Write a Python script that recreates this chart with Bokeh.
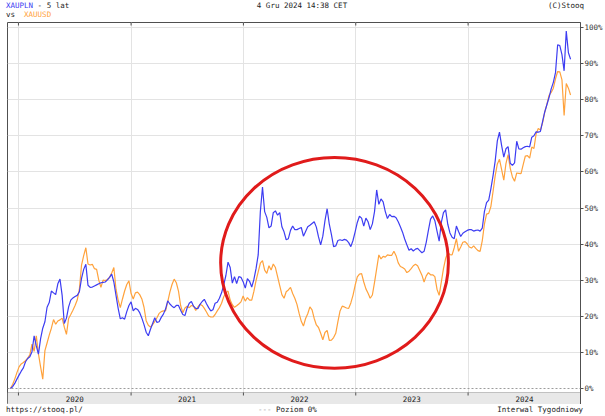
import pandas as pd
from bokeh.plotting import figure
from bokeh.layouts import column
from bokeh.models import (Range1d, FixedTicker, PrintfTickFormatter,
                          DatetimeTickFormatter, BoxAnnotation, Span, Div)
from bokeh.embed import file_html
from bokeh.resources import INLINE

# ---------------- data (weekly, % change since start) ----------------
START_DATE = "2019-12-06"

xaupln = [
    0.0, 0.5, 1.4, 2.6, 3.7, 4.8, 5.7, 7.4, 8.3, 8.8,
    10.2, 14.6, 11.8, 9.5, 13.8, 16.7, 18.5, 22.5, 23.8, 27,
    26.5, 26, 29, 30.3, 25.8, 18, 19.5, 22.6, 24.5, 25.1,
    25.5, 25.8, 26.8, 30.5, 33, 34.4, 28.6, 28, 28.1, 28.4,
    28.7, 29, 29.3, 29.4, 29.5, 30.1, 30.8, 31.7, 29.5, 25.8,
    22.2, 19.3, 19.6, 19.2,
    21.3, 23, 24, 21.5, 22.2, 21.9, 21, 19.5, 17.7, 15.6,
    14.6, 16.4, 18, 19.6, 18.3, 18.5, 19.7, 20.6, 22, 24.3,
    23.4, 22.8, 22.4, 23, 23, 21.7, 20.5, 20.2, 22.3, 23.6,
    24.1, 22.8, 22.2, 22.1, 23.3, 24.1, 24.7, 23.5, 22.4, 21.5,
    21.8,
    23.6, 23.9, 25, 26.5, 28.7, 31.3, 35, 33.5, 29.2, 31,
    29.1, 31, 30.8, 29.6, 27.8, 30.4, 29.7, 28.1, 30.2, 33.2,
    37, 49, 55.8, 49, 47.4, 44.5, 45, 48.7, 49.2, 48,
    48.7, 44.8, 43.4, 41.2, 41.5, 43.8, 45, 44, 44, 44.3,
    44.6, 42.2, 43.5, 44.8, 45.2, 45.7, 46.2, 44.7, 42, 39.8,
    42.2, 46.5, 49.8, 45.5, 42.6, 39.3, 39.5, 41,
    41.2, 41, 41.3, 41.1, 40.4, 39.3, 41, 43.4, 46, 47.7,
    47.2, 45, 47.2, 46.2, 44, 45.6, 49, 55, 51, 52.5,
    51.7, 49, 47.1, 48.2, 47.6, 47.7, 47.3, 46.2, 44.8, 43.3,
    41.4, 39.8, 38.3, 38.7, 38.1, 38.6, 38.8, 38.2, 37.6, 38,
    40.5, 43.8, 46.9, 47.8, 46.5, 43.6, 40.8, 46, 48.7, 49.5,
    45.5, 43.1, 41.9, 41.5, 45,
    43.5, 42.1, 43, 43.4, 43.8, 44, 44, 43.6, 43.8, 43.9,
    43.6, 44.4, 49, 51.5, 52.2, 55.3, 58.9, 63, 68.6, 71,
    67.3, 64.1, 66.4, 67, 62.4, 61.8, 62.5, 68.5, 66.4, 66.3,
    66.7, 67, 67.1, 66.9, 69.6, 70, 71.1, 71, 71.2, 73.9,
    76.6, 78.6, 80.6, 83, 84.8, 87.5, 95.2, 95, 92.5, 88,
    99, 93, 91.2,
]

xauusd = [
    0.0, 1.1, 2.6, 4.4, 6, 6.8, 7.2, 7.7, 8.4, 9.3,
    12.3, 10.3, 14.6, 9.6, 6, 2.6, 10.5, 12.6, 14.8, 16.7,
    19.1, 17.8, 18.7, 19, 19.5, 17, 15, 19.4, 20.5, 21.7,
    23, 24.5, 27.5, 34.2, 36.8, 39, 34.5, 34.2, 34.4, 33.2,
    33, 30, 28, 30, 29.9, 30.2, 30.8, 32, 33.5, 27.5,
    24.5, 22.4, 24.8, 27,
    28.8, 29.8, 26.3, 24.8, 26.5, 26.7, 26, 24.8, 22.5, 18.8,
    17.5, 17, 17.7, 18.6, 19.6, 20.8, 21.3, 21.5, 21.5, 24,
    26.7, 28.8, 30.3, 29.3, 27, 23, 21, 22.3, 22.8, 22.4,
    23, 22.8, 21.6, 22.6, 23.3, 23, 22.2, 21.2, 20.1, 19.8,
    19.8,
    20.5, 21.5, 22.4, 23.6, 25.4, 26.5, 27, 24.5, 23.2, 22.5,
    22.9, 23.4, 24, 25.6, 24.2, 25.2, 24.5, 24.5, 26.9, 29.9,
    32.3, 34.7, 35.4, 32.8, 31.9, 34, 32.8, 34.5, 33.5, 31,
    28.5, 26, 25, 26.8, 27.3, 28, 26.3, 25, 23.3, 20.8,
    18.6, 17.3, 19.4, 20.7, 22.6, 21.8, 19.4, 17.6, 16.9, 15.3,
    13.5, 15.5, 16.1, 13.3, 13.4, 14.1, 15.3, 18.5,
    21.5, 22.8, 22.6, 22.3, 22.2, 23.7, 25.8, 28.6, 30.9, 31.7,
    31.8, 29.5, 27.6, 26.4, 25, 25.9, 29.4, 33.2, 37, 35.9,
    36.6, 36.4, 37, 36.9, 36.9, 38, 36.8, 34.8, 33.8, 33.5,
    33.1, 32.1, 32.5, 33.2, 34, 34.4, 34, 32.7, 31.4, 29.5,
    31.2, 32.1, 31.5, 31.5, 31, 27.5, 25.8, 29.5, 33.2, 36,
    37.6, 37.1, 37, 39, 41.5,
    38, 39.2, 40.5, 40.7, 40.1, 39.2, 38.9, 39.5, 38.8, 38.2,
    38, 40.9, 45.5, 48.3, 48.5, 50.4, 54.5, 58.9, 62.2, 63.5,
    60.6, 57.7, 62.3, 64.8, 61, 58.6, 57.4, 59.7, 59.6, 59.5,
    62, 64.4, 64.5, 63.8, 66.9, 66.5, 70.5, 72, 71.6, 73.6,
    76.5, 78.7, 81.2, 82, 83.2, 85.8, 87.8, 87.7, 85.5, 75.6,
    84.5, 83.2, 81.3,
]

years = [2020, 2021, 2022, 2023, 2024]
pct_ticks = [0, 10, 20, 30, 40, 50, 60, 70, 80, 90, 100]

# highlighted region (red ellipse)
highlight_center = "2022-10-24"
highlight_value = 34.8
highlight_days = 740
highlight_pct = 58.4

# ---------------- layout (pixels) ----------------
W, H = 605, 416
HEAD_H, FOOT_H = 22, 12
PH = H - HEAD_H - FOOT_H          # figure height (frame 22..404 of the page)
FL, FR = 7, 583
Y0_PX, Y100_PX = 388 - HEAD_H, 27 - HEAD_H
X2020_PX, PX_PER_YEAR = 18, 113
BAND_TOP_PX = 392 - HEAD_H

FONT = "DejaVu Sans Mono"
FS = "7.5px"
BLUE = "#3d3df2"
ORANGE = "#ffa23c"
FRAME = "#505050"
TXT = "#222222"

px_pct = (Y0_PX - Y100_PX) / 100.0
y_start = -(PH - Y0_PX) / px_pct
y_end = 100 + Y100_PX / px_pct
band_top = -(BAND_TOP_PX - Y0_PX) / px_pct

base = pd.Timestamp("2020-01-01")
px_day = PX_PER_YEAR / 365.25
x_start = base - pd.Timedelta(days=(X2020_PX - FL) / px_day)
x_end = base + pd.Timedelta(days=(FR - X2020_PX) / px_day)

dates = pd.date_range(START_DATE, periods=len(xaupln), freq="7D")
year_start_ts = [pd.Timestamp(f"{y}-01-01") for y in years]

def ms(ts):
    return pd.Timestamp(ts).value / 1e6

year_starts = [ms(t) for t in year_start_ts]
mid_years = [ms(f"{y}-07-02") for y in years]

p = figure(width=W, height=PH, x_axis_type="datetime", y_axis_location="right",
           x_range=Range1d(x_start, x_end), y_range=Range1d(y_start, y_end),
           output_backend="svg", toolbar_location=None,
           min_border_left=FL, min_border_right=W - FR,
           min_border_top=0, min_border_bottom=0,
           outline_line_color=FRAME, outline_line_width=1,
           background_fill_color="white", border_fill_color="white")

# grids
p.xgrid.ticker = FixedTicker(ticks=year_starts)
p.ygrid.ticker = FixedTicker(ticks=pct_ticks[1:])
p.xgrid.grid_line_color = "#e3e3e3"
p.ygrid.grid_line_color = "#e3e3e3"

# right axis
ya = p.yaxis[0]
ya.ticker = FixedTicker(ticks=pct_ticks)
ya.formatter = PrintfTickFormatter(format="%d%%")
ya.major_tick_out = 3
ya.major_tick_in = 0
ya.minor_tick_line_color = None
ya.axis_line_color = FRAME
ya.major_tick_line_color = FRAME
ya.major_label_standoff = 1
ya.major_label_text_font = FONT
ya.major_label_text_font_size = FS
ya.major_label_text_color = "#333333"

# bottom axis: year labels inside the grey band
xa = p.xaxis[0]
xa.ticker = FixedTicker(ticks=mid_years)
xa.formatter = DatetimeTickFormatter(days="%Y", months="%Y", years="%Y")
xa.major_tick_out = 0
xa.major_tick_in = 0
xa.minor_tick_line_color = None
xa.axis_line_color = FRAME
xa.major_label_standoff = -9
xa.major_label_text_font = FONT
xa.major_label_text_font_size = FS
xa.major_label_text_color = TXT

# grey year band
p.add_layout(BoxAnnotation(bottom=y_start, top=band_top, fill_color="#e8e8e8",
                           fill_alpha=1.0, line_color=FRAME, line_width=1, level="glyph"))

# small year tick marks at the top edge and at the band edge
tick_len = 3 / px_pct
p.segment(x0=year_start_ts, x1=year_start_ts, y0=y_end, y1=y_end - tick_len,
          line_color=FRAME, line_width=1)
p.segment(x0=year_start_ts, x1=year_start_ts, y0=band_top, y1=band_top - tick_len,
          line_color=FRAME, line_width=1, level="overlay")

# zero level
p.add_layout(Span(location=0, dimension="width", line_color="#9c9c9c",
                  line_dash="2 2", line_width=1))

# series
p.line(dates, xauusd, line_color=ORANGE, line_width=1.2)
p.line(dates, xaupln, line_color=BLUE, line_width=1.2)

# red ellipse
p.ellipse(x=[pd.Timestamp(highlight_center)], y=[highlight_value],
          width=[highlight_days * 86400000], height=[highlight_pct],
          fill_color=None, line_color="#e01b1b", line_width=3)

# ---------------- header / footer texts ----------------
box = (f"position:relative;width:{W}px;height:{{h}}px;font-family:'{FONT}';"
       f"font-size:{FS};line-height:9px;color:{TXT};white-space:pre;")

def span(txt, style):
    return f'<span style="position:absolute;{style}">{txt}</span>'

header_html = (
    f'<div style="{box.format(h=HEAD_H)}">'
    + span(f'<span style="color:{BLUE}">XAUPLN</span> - 5 lat', "left:6px;top:1px;")
    + span(f'vs  <span style="color:{ORANGE}">XAUUSD</span>', "left:6px;top:10px;")
    + span("4 Gru 2024 14:38 CET", "left:302px;top:1px;transform:translateX(-50%);")
    + span("(C)Stooq", f"right:{W - 584}px;top:1px;")
    + "</div>"
)
footer_html = (
    f'<div style="{box.format(h=FOOT_H)}">'
    + span("https://stooq.pl/", "left:6px;top:1px;")
    + span(f'<span style="color:#9c9c9c">---</span> Poziom 0%', "left:258px;top:1px;")
    + span("Interwal Tygodniowy", f"right:{W - 583}px;top:1px;")
    + "</div>"
)

header = Div(text=header_html, width=W, height=HEAD_H, margin=(0, 0, 0, 0))
footer = Div(text=footer_html, width=W, height=FOOT_H, margin=(0, 0, 0, 0))

layout = column(header, p, footer, spacing=0)

open("out.html", "w").write(file_html(layout, INLINE))
